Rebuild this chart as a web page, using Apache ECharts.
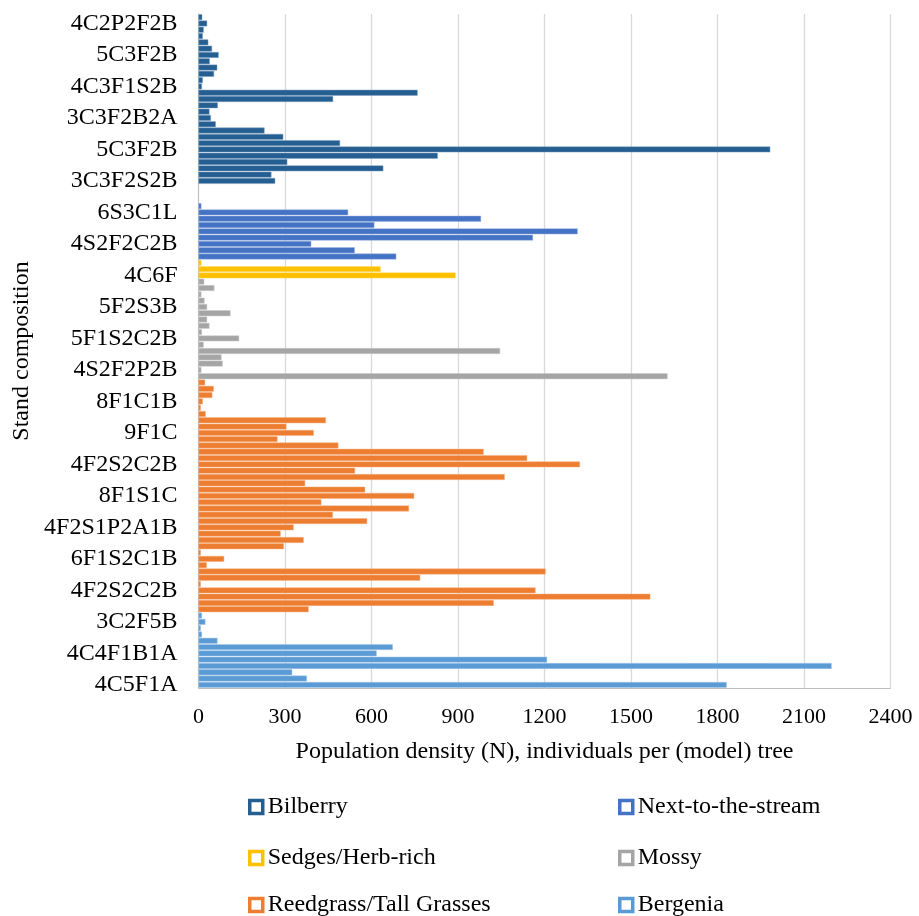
<!DOCTYPE html>
<html>
<head>
<meta charset="utf-8">
<script src="https://cdn.jsdelivr.net/npm/echarts@6/dist/echarts.min.js"></script>
<style>
  html, body { margin: 0; padding: 0; background: #ffffff; }
  #chart { width: 919px; height: 916px; }
</style>
</head>
<body>
<div id="chart"></div>
<script>
// Population density (N) per stand row, listed top to bottom within each forest type
const bilberry = [13, 30, 18, 15, 34, 47, 70, 39, 65, 54, 15, 12, 760, 467, 67, 38, 43, 60,
                  229, 294, 491, 1983, 830, 308, 641, 253, 266];
const emptyRowsAfterBilberry = 3;
const nextToStream = [10, 519, 980, 610, 1315, 1160, 391, 542, 686];
const sedgesHerbRich = [10, 632, 892];
const mossy = [20, 55, 10, 21, 30, 111, 30, 38, 12, 141, 18, 1046, 80, 84, 10, 1627];
const reedgrass = [23, 53, 48, 15, 8, 25, 442, 305, 400, 274, 485, 989, 1140, 1323, 543, 1062,
                   370, 578, 748, 426, 730, 466, 585, 330, 285, 365, 296, 8, 89, 29, 1204, 769,
                   8, 1169, 1567, 1024, 382];
const bergenia = [12, 24, 8, 12, 66, 674, 618, 1209, 2196, 325, 376, 1832];

// Stand composition labels, shown on every fifth row (top to bottom, starting at row 1)
const standLabels = ['4C2P2F2B', '5C3F2B', '4C3F1S2B', '3C3F2B2A', '5C3F2B', '3C3F2S2B',
                     '6S3C1L', '4S2F2C2B', '4C6F', '5F2S3B', '5F1S2C2B', '4S2F2P2B',
                     '8F1C1B', '9F1C', '4F2S2C2B', '8F1S1C', '4F2S1P2A1B', '6F1S2C1B',
                     '4F2S2C2B', '3C2F5B', '4C4F1B1A', '4C5F1A'];
const firstLabelRow = 1;
const labelStep = 5;

// Value axis ticks
const xMin = 0, xMax = 2400, xStep = 300;

const seriesNames = ['Bilberry', 'Next-to-the-stream', 'Sedges/Herb-rich', 'Mossy',
                     'Reedgrass/Tall Grasses', 'Bergenia'];
const seriesColors = ['#255E91', '#4472C4', '#FFC000', '#A5A5A5', '#ED7D31', '#5B9BD5'];
const seriesEdges = ['#7FA2C3', '#9BB3E0', '#FFDA70', '#CCCCCC', '#F4B283', '#A6C9E9'];

// Row blocks in drawing order (null = empty rows)
const blocks = [
  { s: 0, values: bilberry },
  { s: null, count: emptyRowsAfterBilberry },
  { s: 1, values: nextToStream },
  { s: 2, values: sedgesHerbRich },
  { s: 3, values: mossy },
  { s: 4, values: reedgrass },
  { s: 5, values: bergenia }
];

const totalRows = blocks.reduce((n, b) => n + (b.values ? b.values.length : b.count), 0);
const seriesData = seriesNames.map(() => new Array(totalRows).fill('-'));
let row = 0;
blocks.forEach(b => {
  if (b.values) {
    b.values.forEach(v => { seriesData[b.s][row] = v; row++; });
  } else {
    row += b.count;
  }
});

const rowNames = [];
for (let i = 0; i < totalRows; i++) {
  const k = (i - firstLabelRow) / labelStep;
  rowNames.push(Number.isInteger(k) && k >= 0 && k < standLabels.length ? standLabels[k] : '');
}

const FONT = '"Liberation Serif", "Times New Roman", serif';
const chart = echarts.init(document.getElementById('chart'), null, { renderer: 'canvas' });

const legendPos = [
  [248, 795], [618, 795],
  [248, 846], [618, 846],
  [248, 893], [618, 893]
];

chart.setOption({
  animation: false,
  backgroundColor: '#ffffff',
  grid: { left: 198.5, right: 28.5, top: 14, bottom: 228, containLabel: false },
  xAxis: {
    type: 'value',
    min: xMin, max: xMax, interval: xStep,
    name: 'Population density (N), individuals per (model) tree',
    nameLocation: 'middle',
    nameGap: 52,
    nameTextStyle: { fontFamily: FONT, fontSize: 24, color: '#000' },
    axisLine: { show: true, lineStyle: { color: '#BFBFBF', width: 1 } },
    axisTick: { show: false },
    axisLabel: {
      fontFamily: FONT, fontSize: 22, color: '#000', margin: 18,
      formatter: v => String(v)
    },
    splitLine: { show: true, lineStyle: { color: '#D9D9D9', width: 1.3 } }
  },
  yAxis: {
    type: 'category',
    inverse: true,
    data: rowNames,
    name: 'Stand composition',
    nameLocation: 'middle',
    nameGap: 158,
    nameTextStyle: { fontFamily: FONT, fontSize: 24, color: '#000' },
    axisLine: { show: true, lineStyle: { color: '#BFBFBF', width: 1 } },
    axisTick: { show: false },
    axisLabel: { interval: 0, fontFamily: FONT, fontSize: 24, color: '#000', margin: 21 },
    splitLine: { show: false }
  },
  legend: legendPos.map((p, i) => ({
    left: p[0], top: p[1], padding: 0,
    icon: 'rect', itemWidth: 13, itemHeight: 13,
    textStyle: { fontFamily: FONT, fontSize: 24, color: '#000' },
    data: [{
      name: seriesNames[i],
      itemStyle: { color: '#ffffff', borderColor: seriesColors[i], borderWidth: 3.5 }
    }]
  })),
  series: seriesNames.map((name, i) => ({
    name: name,
    type: 'bar',
    stack: 'rows',
    barWidth: '93%',
    data: seriesData[i],
    itemStyle: { color: seriesColors[i], borderColor: seriesEdges[i], borderWidth: 0.5 }
  }))
});
</script>
</body>
</html>
